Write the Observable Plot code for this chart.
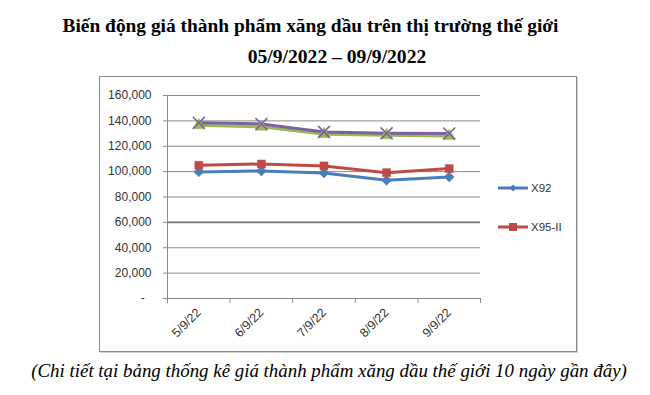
<!DOCTYPE html>
<html>
<head>
<meta charset="utf-8">
<script src="https://cdn.jsdelivr.net/npm/d3@7"></script>
<script src="https://cdn.jsdelivr.net/npm/@observablehq/plot@0.6"></script>
<style>
  html, body { margin: 0; padding: 0; background: #fff; }
  #page { position: relative; width: 650px; height: 395px; overflow: hidden; background: #fff; }
  .t { position: absolute; white-space: nowrap; font-family: "Liberation Serif", "Times New Roman", serif; line-height: 1; color: #000; text-align: center; }
  #title { top: 15.5px; left: 0; width: 621px; font-size: 19.4px; font-weight: bold; }
  #subtitle { top: 46.6px; left: 0; width: 674px; font-size: 19.6px; font-weight: bold; }
  #caption { top: 362.2px; left: 0; width: 658px; font-size: 18.9px; font-style: italic; }
  #box { position: absolute; left: 99px; top: 76px; width: 476px; height: 274px; border: 1px solid #8c8c8c; box-shadow: 1px 1px 0 #d0d0d0; }
  #chart { position: absolute; left: 0; top: 0; }
  .leg { position: absolute; display: flex; align-items: center; font-family: "Liberation Sans", Arial, sans-serif; font-size: 11.5px; color: #333; }
  .leg svg { display: block; margin-right: 2px; }
</style>
</head>
<body>
<div id="page">
  <div id="title" class="t">Biến động giá thành phẩm xăng dầu trên thị trường thế giới</div>
  <div id="subtitle" class="t">05/9/2022 – 09/9/2022</div>
  <div id="box"><div id="chart"></div><div id="legend"></div></div>
  <div id="caption" class="t">(Chi tiết tại bảng thống kê giá thành phẩm xăng dầu thế giới 10 ngày gần đây)</div>
</div>
<script>
// ---- data ----
const dates = ["5/9/22", "6/9/22", "7/9/22", "8/9/22", "9/9/22"];
const seriesNames = ["X92", "X95-II", "DO 0,05S", "Dầu hỏa"];
const x92 = [99800, 100500, 99000, 93200, 95800];
const x95 = [105000, 106000, 104500, 99200, 102400];
const do005 = [136500, 135300, 129500, 128600, 128000];
const dauHoa = [138500, 137600, 131300, 130200, 130100];
const yTicks = [0, 20000, 40000, 60000, 80000, 100000, 120000, 140000, 160000];
const legendNames = ["X92", "X95-II"];

const colors = ["#4A7EBB", "#BE4B48", "#98B954", "#7D60A0"];
const symbols = ["diamond2", "square", "triangle", "times"];
const values = [x92, x95, do005, dauHoa];

const rows = [];
values.forEach((vals, s) => vals.forEach((v, i) => rows.push({series: seriesNames[s], i, date: dates[i], value: v})));

const W = 476, H = 274;
const bounds = d3.range(dates.length + 1).map(k => k - 0.5);
const fmt = d3.format(",");

const chart = Plot.plot({
  width: W, height: H,
  marginLeft: 67, marginRight: 96, marginTop: 18, marginBottom: 53,
  style: {fontFamily: "'Liberation Sans', Arial, sans-serif", fontSize: "11px", color: "#333", background: "transparent"},
  x: {type: "linear", domain: [-0.5, dates.length - 0.5], axis: null},
  y: {domain: [0, 160000], axis: null},
  color: {domain: seriesNames, range: colors},
  symbol: {domain: seriesNames, range: symbols},
  marks: [
    Plot.gridY(yTicks, {stroke: "#8a8a8a", strokeOpacity: 1, x1: -0.5, x2: dates.length - 0.5}),
    Plot.ruleY([60000], {stroke: "#7a7a7a", strokeWidth: 1.7}),
    Plot.ruleX([-0.5], {y1: 0, y2: 160000, stroke: "#8a8a8a"}),
    Plot.axisY({ticks: yTicks, tickSize: 4, tickPadding: 12, stroke: "#8a8a8a", fill: "#333",
      tickFormat: d => d === 0 ? "-\u00a0\u00a0" : fmt(d), label: null, fontSize: 12}),
    Plot.axisX({ticks: bounds, tickSize: 5, tickFormat: () => "", stroke: "#8a8a8a", label: null}),
    Plot.axisX({ticks: d3.range(dates.length), tickSize: 0, tickPadding: 12, tickRotate: -45,
      tickFormat: i => dates[i], fill: "#333", label: null, fontSize: 12.5}),
    Plot.line(rows, {x: "i", y: "value", z: "series", stroke: "series", strokeWidth: 3, curve: "linear"}),
    Plot.dot(rows.filter(d => d.series !== "Dầu hỏa"), {x: "i", y: "value", fill: "series", stroke: "series", strokeWidth: 0.5, symbol: "series", r: 4.5}),
    Plot.dot(rows.filter(d => d.series === "Dầu hỏa"), {x: "i", y: "value", stroke: "series", strokeWidth: 1.6, symbol: "series", r: 5.5})
  ]
});
document.getElementById("chart").appendChild(chart);

// legend (first two entries visible, as in the reference)
const legend = document.getElementById("legend");
legendNames.forEach((name, k) => {
  const idx = seriesNames.indexOf(name);
  const div = document.createElement("div");
  div.className = "leg";
  div.style.left = "398px";
  div.style.top = (104 + k * 39) + "px";
  const marker = idx === 0
    ? `<path d="M15,-3.5 L18.5,0 L15,3.5 L11.5,0 Z" fill="${colors[idx]}"/>`
    : `<rect x="11" y="-4" width="8" height="8" fill="${colors[idx]}"/>`;
  div.innerHTML = `<svg width="31" height="14" viewBox="0 -7 31 14"><line x1="0" x2="30" y1="0" y2="0" stroke="${colors[idx]}" stroke-width="3"/>${marker}</svg><span>${name}</span>`;
  legend.appendChild(div);
});
</script>
</body>
</html>
